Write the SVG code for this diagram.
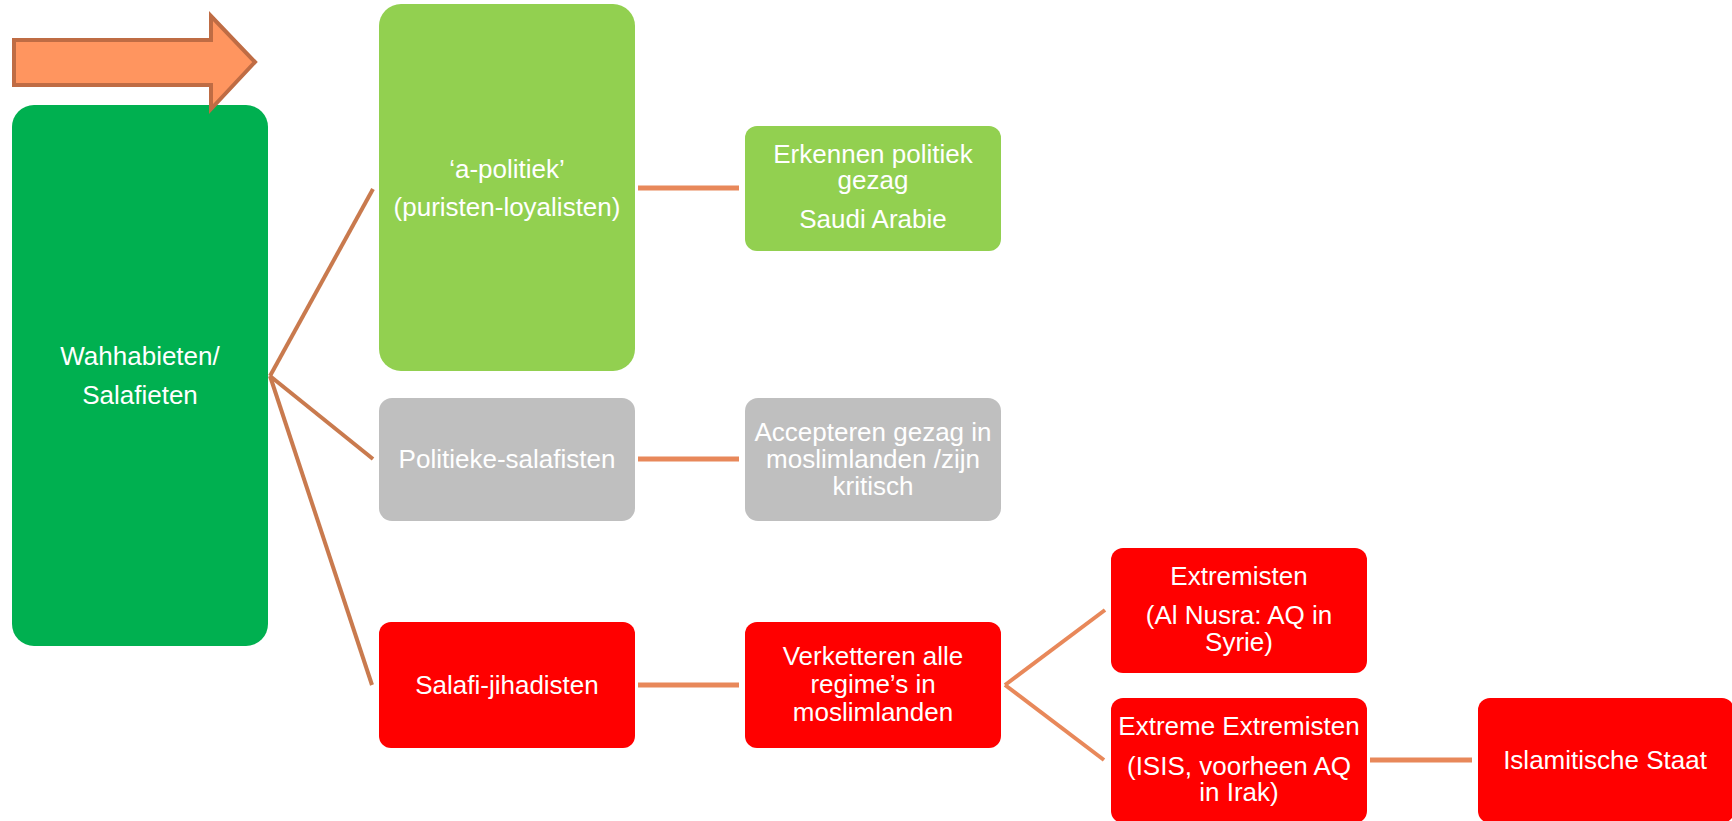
<svg xmlns="http://www.w3.org/2000/svg" width="1732" height="821" viewBox="0 0 1732 821">
<style>
text{font-family:"Liberation Sans",Arial,sans-serif;font-size:26px;fill:#ffffff;text-anchor:middle}
.diag{stroke:#C97A4E;stroke-width:4;fill:none;stroke-linecap:butt}
.hor{stroke:#E8885A;stroke-width:5;fill:none}
.br{stroke:#E8885A;stroke-width:4;fill:none}
.dg{fill:#00B050}
.lg{fill:#92D050}
.gr{fill:#BFBFBF}
.rd{fill:#FF0000}
</style>
<rect width="1732" height="821" fill="#ffffff"/>
<g id="connectors">
<line class="diag" x1="270" y1="376" x2="373" y2="189"/>
<line class="diag" x1="270" y1="376" x2="373" y2="459"/>
<line class="diag" x1="270" y1="376" x2="372" y2="685"/>
<line class="hor" x1="638" y1="188" x2="739" y2="188"/>
<line class="hor" x1="638" y1="459" x2="739" y2="459"/>
<line class="hor" x1="638" y1="685" x2="739" y2="685"/>
<line class="br" x1="1005" y1="685" x2="1105" y2="610"/>
<line class="br" x1="1005" y1="685" x2="1104" y2="760"/>
<line class="hor" x1="1370" y1="760" x2="1472" y2="760"/>
</g>
<g id="wahhabieten">
<rect class="dg" x="12" y="105" width="256" height="541" rx="22"/>
<text x="140" y="365">Wahhabieten/</text>
<text x="140" y="404">Salafieten</text>
</g>
<g id="arrow">
<polygon points="14,40 211,40 211,16 255,62 211,109 211,85 14,85" fill="#FF955F" stroke="#BF6C44" stroke-width="4"/>
</g>
<g id="apolitiek">
<rect class="lg" x="379" y="4" width="256" height="367" rx="22"/>
<text x="507" y="178">‘a-politiek’</text>
<text x="507" y="216">(puristen-loyalisten)</text>
</g>
<g id="erkennen">
<rect class="lg" x="745" y="126" width="256" height="125" rx="12"/>
<text x="873" y="163">Erkennen politiek</text>
<text x="873" y="189">gezag</text>
<text x="873" y="228">Saudi Arabie</text>
</g>
<g id="politieke">
<rect class="gr" x="379" y="398" width="256" height="123" rx="13"/>
<text x="507" y="468">Politieke-salafisten</text>
</g>
<g id="accepteren">
<rect class="gr" x="745" y="398" width="256" height="123" rx="13"/>
<text x="873" y="441">Accepteren gezag in</text>
<text x="873" y="468">moslimlanden /zijn</text>
<text x="873" y="495">kritisch</text>
</g>
<g id="salafijihadisten">
<rect class="rd" x="379" y="622" width="256" height="126" rx="12"/>
<text x="507" y="694">Salafi-jihadisten</text>
</g>
<g id="verketteren">
<rect class="rd" x="745" y="622" width="256" height="126" rx="12"/>
<text x="873" y="665">Verketteren alle</text>
<text x="873" y="693">regime’s in</text>
<text x="873" y="721">moslimlanden</text>
</g>
<g id="extremisten">
<rect class="rd" x="1111" y="548" width="256" height="125" rx="12"/>
<text x="1239" y="585">Extremisten</text>
<text x="1239" y="624">(Al Nusra: AQ in</text>
<text x="1239" y="651">Syrie)</text>
</g>
<g id="extremeextremisten">
<rect class="rd" x="1111" y="698" width="256" height="125" rx="12"/>
<text x="1239" y="735">Extreme Extremisten</text>
<text x="1239" y="775">(ISIS, voorheen AQ</text>
<text x="1239" y="801">in Irak)</text>
</g>
<g id="islamitischestaat">
<rect class="rd" x="1478" y="698" width="256" height="125" rx="12"/>
<text x="1605" y="769">Islamitische Staat</text>
</g>
</svg>
